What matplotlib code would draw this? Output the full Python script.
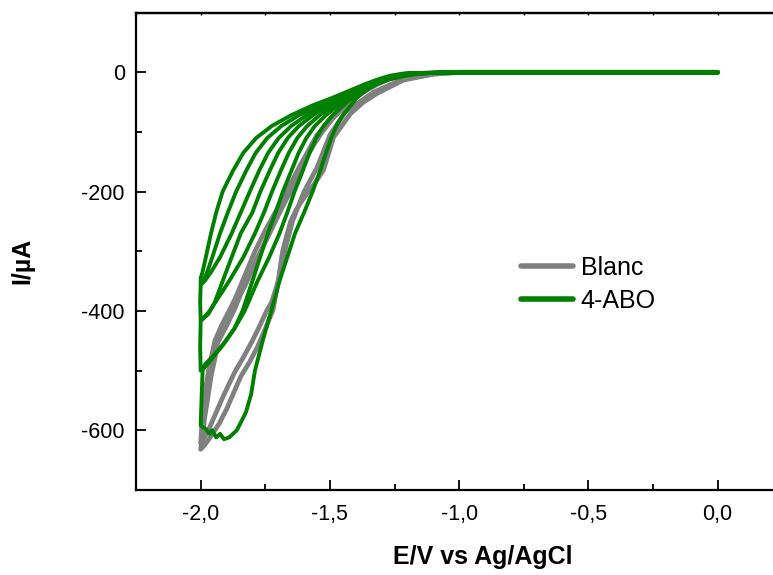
import matplotlib
matplotlib.use("Agg")
import matplotlib.pyplot as plt
from matplotlib.ticker import MultipleLocator, FuncFormatter

plt.rcParams['font.family'] = ['Liberation Sans', 'DejaVu Sans']
plt.rcParams['axes.unicode_minus'] = False

# Blanc: two overlapping cycles, (E / V, I / uA) from 0 V to -2 V and back
blanc_E1 = [0.0, -1.0, -1.1, -1.215, -1.316, -1.37, -1.42, -1.486, -1.525, -1.565, -1.60, -1.63, -1.652,
            -1.668, -1.683, -1.70, -1.72, -1.75, -1.78, -1.81, -1.845, -1.875, -1.90, -1.93, -1.96, -1.985, -2.0,
            -1.99, -1.985, -1.972, -1.96, -1.945, -1.934, -1.90, -1.87, -1.845, -1.82, -1.78, -1.74, -1.70,
            -1.65, -1.60, -1.56, -1.53, -1.49, -1.45, -1.40, -1.35, -1.30, -1.25, -1.15, -1.05, 0.0]
blanc_I1 = [0, 0, -3, -13, -35, -50, -69, -109, -164, -190, -210, -230, -250,
            -275, -300, -350, -398, -430, -460, -485, -510, -540, -565, -590, -610, -625, -632,
            -600, -580, -545, -510, -480, -453, -425, -398, -372, -350, -310, -276, -240,
            -197, -150, -120, -100, -78, -60, -42, -28, -16, -8, -2, 0, 0]
blanc_E2 = [0.0, -1.0, -1.1, -1.22, -1.33, -1.44, -1.50, -1.55, -1.60, -1.645, -1.675, -1.70, -1.725,
            -1.745, -1.775, -1.80, -1.835, -1.865, -1.89, -1.92, -1.945, -1.97, -1.99, -2.0,
            -1.996, -1.99, -1.98, -1.97, -1.955, -1.945, -1.92, -1.89, -1.865, -1.84, -1.79, -1.75, -1.68,
            -1.62, -1.55, -1.46, -1.36, -1.26, -1.16, -1.05, 0.0]
blanc_I2 = [0, 0, -3, -12, -33, -66, -105, -160, -200, -250, -300, -350, -385,
            -400, -428, -450, -478, -500, -522, -550, -575, -600, -615, -622,
            -595, -560, -530, -500, -470, -450, -425, -400, -378, -352, -300, -265, -210,
            -160, -105, -62, -29, -8, -2, 0, 0]

# 4-ABO: four cycles, the current drops from cycle to cycle
abo_E1 = [0.0, -1.0, -1.10, -1.15, -1.21, -1.27, -1.32, -1.36, -1.395, -1.42, -1.45, -1.475, -1.495, -1.515,
          -1.538, -1.567, -1.60, -1.635, -1.665, -1.695, -1.727, -1.76, -1.79, -1.805, -1.825, -1.86, -1.89,
          -1.91, -1.925, -1.94, -1.955, -1.965, -1.98, -2.0, -1.996, -1.992,
          -1.98, -1.95, -1.91, -1.87, -1.838, -1.80, -1.77, -1.74, -1.71, -1.682, -1.649, -1.621, -1.591,
          -1.558, -1.516, -1.47, -1.425, -1.38, -1.335, -1.285, -1.23, -1.171, -1.10, -1.02, 0.0]
abo_I1 = [0, 0, -1, -2, -6, -12, -20, -30, -42, -56, -72, -90, -110, -135,
          -165, -200, -235, -270, -310, -350, -400, -450, -500, -540, -570, -600, -612,
          -615, -606, -612, -600, -606, -598, -592, -540, -495,
          -488, -475, -455, -430, -400, -350, -310, -270, -235, -200, -165, -135, -110,
          -90, -72, -56, -42, -30, -20, -12, -6, -2, -1, 0, 0]
abo_E2 = [0.0, -1.0, -1.163, -1.222, -1.279, -1.329, -1.372, -1.413, -1.45, -1.49, -1.525, -1.553, -1.579,
          -1.605, -1.637, -1.665, -1.695, -1.735, -1.78, -1.83, -1.87, -1.92, -1.965, -1.99, -2.0, -2.002, -2.0,
          -1.99, -1.97, -1.945, -1.915, -1.88, -1.845, -1.80, -1.769, -1.733, -1.70, -1.663, -1.62, -1.566,
          -1.507, -1.448, -1.395, -1.346, -1.296, -1.245, -1.188, -1.10, -1.02, 0.0]
abo_I2 = [0, 0, -2, -6, -12, -20, -30, -42, -56, -72, -90, -110, -135,
          -165, -200, -235, -270, -310, -350, -400, -430, -460, -485, -497, -500, -460, -417,
          -413, -405, -385, -350, -310, -270, -235, -200, -165, -135, -110, -90, -72,
          -56, -42, -30, -20, -12, -6, -2, -1, 0, 0]
abo_E3 = [0.0, -1.0, -1.179, -1.237, -1.29, -1.34, -1.387, -1.436, -1.488, -1.54, -1.588, -1.626, -1.659,
          -1.69, -1.724, -1.755, -1.79, -1.835, -1.89, -1.935, -1.965, -1.985, -2.0, -2.002, -2.0,
          -1.99, -1.975, -1.955, -1.925, -1.895, -1.863, -1.824, -1.787, -1.742, -1.688, -1.62, -1.548,
          -1.472, -1.411, -1.358, -1.308, -1.261, -1.205, -1.11, -1.03, 0.0]
abo_I3 = [0, 0, -2, -6, -12, -20, -30, -42, -56, -72, -90, -110, -135,
          -165, -200, -235, -270, -310, -350, -380, -400, -410, -415, -385, -357,
          -350, -335, -310, -270, -235, -200, -165, -135, -110, -90, -72, -56,
          -42, -30, -20, -12, -6, -2, -1, 0, 0]
abo_E4 = [0.0, -1.0, -1.196, -1.252, -1.302, -1.352, -1.402, -1.459, -1.525, -1.59, -1.65, -1.698, -1.739,
          -1.774, -1.81, -1.845, -1.88, -1.925, -1.96, -1.985, -2.0, -2.0,
          -1.993, -1.98, -1.96, -1.94, -1.915, -1.875, -1.835, -1.785, -1.725, -1.65, -1.57, -1.486,
          -1.42, -1.365, -1.315, -1.27, -1.215, -1.12, -1.04, 0.0]
abo_I4 = [0, 0, -2, -6, -12, -20, -30, -42, -56, -72, -90, -110, -135,
          -165, -200, -235, -270, -310, -335, -350, -356, -345,
          -335, -310, -270, -235, -200, -165, -135, -110, -90, -72, -56, -42,
          -30, -20, -12, -6, -2, -1, 0, 0]

grey = '#808080'
green = '#008000'

fig = plt.figure(figsize=(7.73, 5.75), dpi=100)
ax = fig.add_axes([0.176, 0.148, 0.836, 0.830])

line_kw = dict(solid_capstyle='round', solid_joinstyle='round')
ax.plot(blanc_E1, blanc_I1, color=grey, lw=3.4, label='Blanc', **line_kw)
ax.plot(blanc_E2, blanc_I2, color=grey, lw=3.4, **line_kw)
ax.plot(abo_E1, abo_I1, color=green, lw=2.8, label='4-ABO', **line_kw)
for e, i in [(abo_E2, abo_I2), (abo_E3, abo_I3), (abo_E4, abo_I4)]:
    ax.plot(e, i, color=green, lw=2.8, **line_kw)

ax.set_xlim(-2.25, 0.25)
ax.set_ylim(-700, 100)

ax.xaxis.set_major_locator(MultipleLocator(0.5))
ax.xaxis.set_minor_locator(MultipleLocator(0.25))
ax.yaxis.set_major_locator(MultipleLocator(200))
ax.yaxis.set_minor_locator(MultipleLocator(100))
ax.xaxis.set_major_formatter(FuncFormatter(lambda v, p: ('%.1f' % v).replace('.', ',').replace('-0,0', '0,0')))
ax.yaxis.set_major_formatter(FuncFormatter(lambda v, p: '%d' % v))

ax.tick_params(which='both', direction='in', width=1.3, labelsize=15.5)
ax.tick_params(which='major', length=7)
ax.tick_params(which='minor', length=4)
ax.tick_params(axis='x', which='major', pad=10)
ax.tick_params(axis='y', which='major', pad=8)
for s in ax.spines.values():
    s.set_linewidth(1.6)

top = ax.secondary_xaxis('top')
top.xaxis.set_major_locator(MultipleLocator(0.25))
top.tick_params(direction='in', length=1.5, width=1.0, labeltop=False)
top.spines['top'].set_linewidth(1.6)

ax.set_xlabel('E/V vs Ag/AgCl', fontsize=18, fontweight='bold')
ax.set_ylabel('I/\u00b5A', fontsize=18, fontweight='bold')
ax.xaxis.set_label_coords(0.537, -0.116)
ax.yaxis.set_label_coords(-0.158, 0.48)

leg = ax.legend(loc='upper left', bbox_to_anchor=(0.58, 0.512), frameon=False, fontsize=18,
                handlelength=2.1, handletextpad=0.3, labelspacing=0.36, borderaxespad=0)
for h in leg.get_lines():
    h.set_linewidth(4)

fig.savefig('out.png', dpi=100)
